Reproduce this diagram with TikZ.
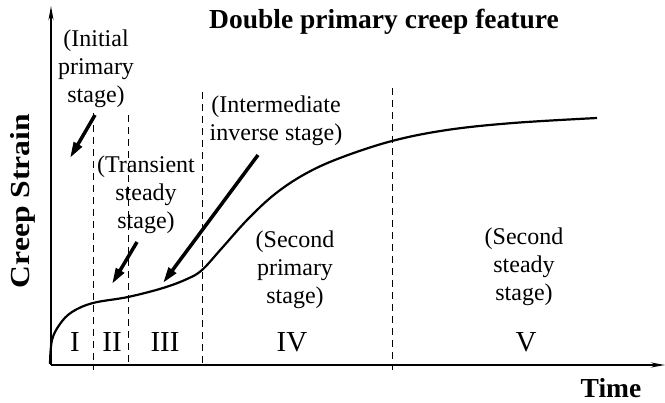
\documentclass[tikz,border=0pt]{standalone}
\usepackage{fontspec}
\setmainfont{Liberation Serif}
\usetikzlibrary{arrows.meta}
\begin{document}
\begin{tikzpicture}[x=1pt,y=-1pt,
  lbl/.style={font=\fontsize{24}{28}\selectfont, align=center, inner sep=0pt},
  num/.style={font=\fontsize{29}{30}\selectfont, inner sep=0pt},
  ttl/.style={font=\fontsize{27.5}{30}\selectfont\bfseries, inner sep=0pt},
  axis/.style={line width=1.8pt, -{Stealth[length=14pt,width=5pt]}},
  divider/.style={line width=1pt, dash pattern=on 7pt off 5pt},
  pointer/.style={line width=3.5pt, -{Triangle[length=16pt,width=9pt]}},
  creep/.style={line width=2.2pt, line join=round}]
\useasboundingbox (0,0) rectangle (665,403);

% axes
\coordinate (O) at (51,365);
\coordinate (ytop) at (51,6);
\coordinate (xend) at (665,365);
\draw[axis] (O) -- (ytop);
\draw[axis] (O) -- (xend);

% dividers
\coordinate (d1t) at (93,113);  \coordinate (d1b) at (93,370);
\coordinate (d2t) at (128,115); \coordinate (d2b) at (128,366);
\coordinate (d3t) at (202,92);  \coordinate (d3b) at (202,366);
\coordinate (d4t) at (392,88);  \coordinate (d4b) at (392,370);
\draw[divider] (d1t) -- (d1b);
\draw[divider] (d2t) -- (d2b);
\draw[divider] (d3t) -- (d3b);
\draw[divider] (d4t) -- (d4b);

% creep curve
\draw[creep] plot[smooth, tension=0.6] coordinates {
  (50,364) (52,340) (60,324) (72,312) (93,303) (128,297) (163,288)
  (187,279) (202,270) (222,248) (248,219) (275,194) (305,174) (340,158)
  (392,141) (447,130) (513,123) (597,118)};

% texts
\node[ttl] (title) at (384,22) {Double primary creep feature};
\node[ttl, rotate=90] (ylab) at (23,201) {\scalebox{1.15}[1]{Creep Strain}};
\node[ttl] (xlab) at (611,388) {Time};

\node[lbl] (initial) at (96,69) {(Initial\\primary\\stage)};
\node[lbl] (transient) at (146,195) {(Transient\\steady\\stage)};
\node[lbl] (inter) at (276,121) {(Intermediate\\inverse stage)};
\node[lbl] (secprim) at (295,270) {(Second\\primary\\stage)};
\node[lbl] (secsteady) at (524,267) {(Second\\steady\\stage)};

\node[num] (n1) at (75,342) {I};
\node[num] (n2) at (112,342) {II};
\node[num] (n3) at (165,342) {III};
\node[num] (n4) at (292,342) {IV};
\node[num] (n5) at (526,342) {V};

% pointers
\coordinate (p1s) at (95,115);  \coordinate (p1e) at (70,158);
\coordinate (p2s) at (137,242); \coordinate (p2e) at (112,284);
\coordinate (p3s) at (258,155); \coordinate (p3e) at (163,283);
\draw[pointer] (p1s) -- (p1e);
\draw[pointer] (p2s) -- (p2e);
\draw[pointer] (p3s) -- (p3e);
\end{tikzpicture}
\end{document}
